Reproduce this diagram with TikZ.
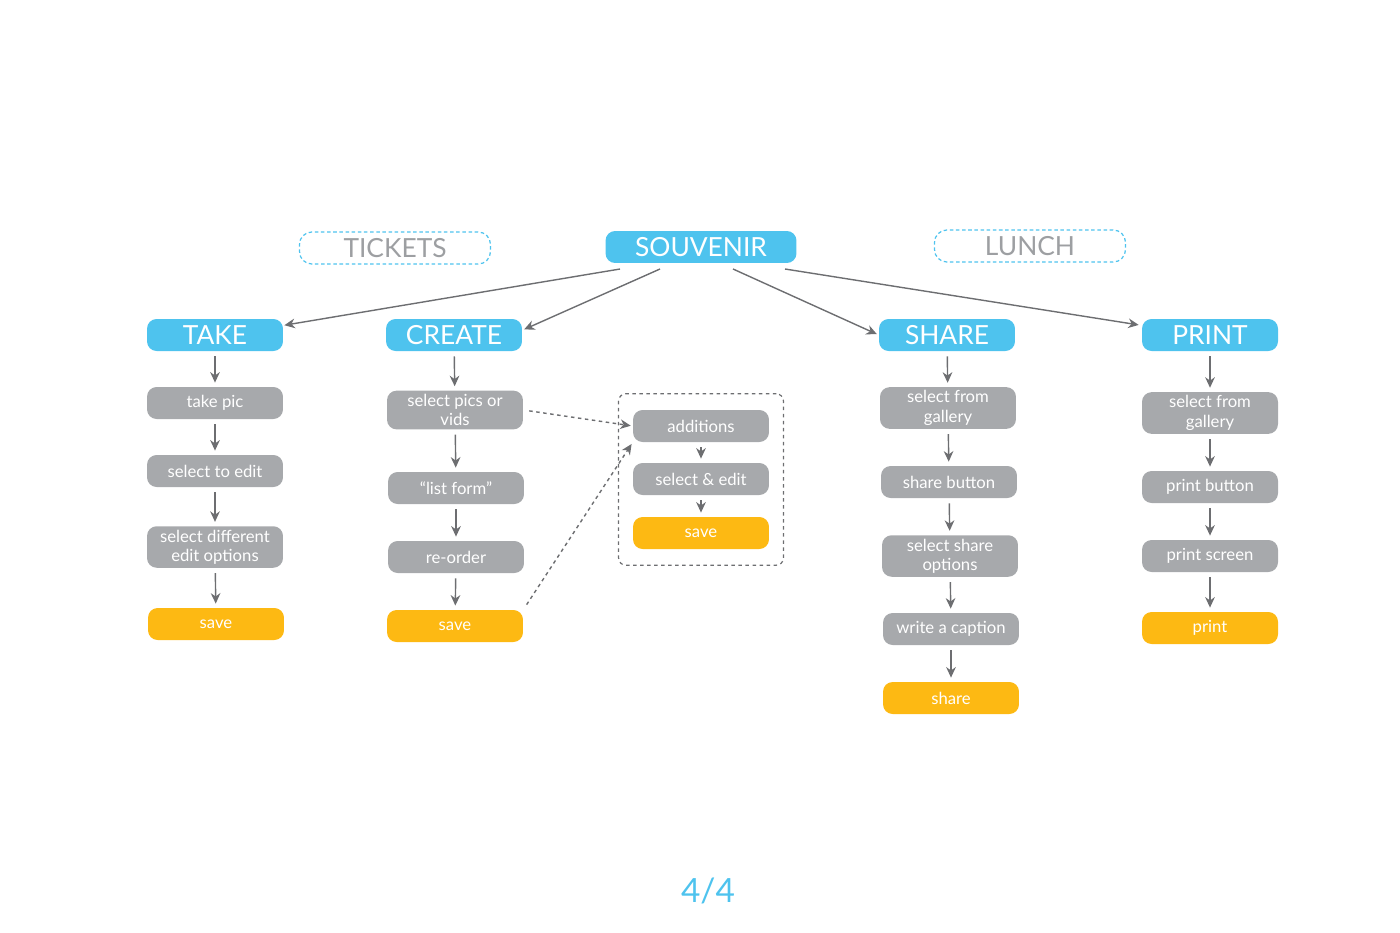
\documentclass[tikz,border=0pt]{standalone}
\usepackage{fontspec}
\setmainfont{Lato}
\usetikzlibrary{arrows.meta,fit}
\definecolor{skyblue}{HTML}{4EC3EE}
\definecolor{boxgrey}{HTML}{A7A9AC}
\definecolor{saveorange}{HTML}{FDB913}
\definecolor{linegrey}{HTML}{6D6E71}
\definecolor{textgrey}{HTML}{9D9FA2}
\begin{document}
\begin{tikzpicture}[x=0.02cm,y=-0.02cm,
  head/.style={fill=skyblue, text=white, rounded corners=5.5pt, minimum width=2.72cm,
    minimum height=0.64cm, inner sep=0pt, font=\fontsize{15}{17}\selectfont},
  other/.style={draw=skyblue, dash pattern=on 2pt off 1.5pt, line width=0.7pt, text=textgrey,
    rounded corners=7pt, minimum width=3.82cm, minimum height=0.64cm, inner sep=0pt,
    font=\fontsize{15}{17}\selectfont},
  stepbox/.style={fill=boxgrey, text=white, rounded corners=5.5pt, minimum width=2.72cm,
    minimum height=0.64cm, inner xsep=0pt, inner ysep=2pt, align=center,
    font=\fontsize{9.5}{11}\selectfont},
  endbox/.style={stepbox, fill=saveorange},
  flow/.style={draw=linegrey, line width=0.8pt, -{Stealth[length=6pt,width=5.5pt]},
    shorten <=2.8pt, shorten >=2.3pt},
  extra/.style={flow, dash pattern=on 2pt off 2pt, shorten <=3.4pt, shorten >=1.1pt},
  group/.style={draw=linegrey, dash pattern=on 2pt off 2pt, line width=0.7pt, rounded corners=4pt,
    inner xsep=8pt, inner ysep=9pt}]
  \useasboundingbox (0,0) rectangle (1400,933);
  % top row
  \node[head, minimum width=3.82cm] (souvenir) at (701,247) {SOUVENIR};
  \node[other] (tickets) at (395,248) {TICKETS};
  \node[other] (lunch) at (1030,246) {LUNCH};
  % branches
  \node[head] (take) at (215,335) {TAKE};
  \node[head] (create) at (454,335) {CREATE};
  \node[head] (share) at (947,335) {SHARE};
  \node[head] (print) at (1210,335) {PRINT};
  \coordinate (s1) at (620,269);
  \coordinate (s2) at (660,269);
  \coordinate (s3) at (733,269);
  \coordinate (s4) at (785,269);
  \draw[flow, shorten <=0pt, shorten >=0.6pt] (s1) -- (take.8);
  \draw[flow, shorten <=0pt, shorten >=1.1pt] (s2) -- (create.4);
  \draw[flow, shorten <=0pt, shorten >=1.1pt] (s3) -- (share.west);
  \draw[flow, shorten <=0pt, shorten >=1.7pt] (s4) -- (print.172);
  % take
  \node[stepbox] (tkpic) at (215,403) {take pic};
  \node[stepbox] (tkedit) at (215,471) {select to edit};
  \node[stepbox] (tkopt) at (215,547) {select different\\edit options};
  \node[endbox] (tksave) at (216,624) {save};
  \draw[flow] (take) -- (tkpic);
  \draw[flow] (tkpic) -- (tkedit);
  \draw[flow] (tkedit) -- (tkopt);
  \draw[flow] (tkopt) -- (tksave);
  % create
  \node[stepbox] (crsel) at (455,410) {select pics or\\vids};
  \node[stepbox] (crlist) at (456,488) {“list form”};
  \node[stepbox] (crorder) at (456,557) {re-order};
  \node[endbox] (crsave) at (455,626) {save};
  \draw[flow] (create) -- (crsel);
  \draw[flow] (crsel) -- (crlist);
  \draw[flow] (crlist) -- (crorder);
  \draw[flow] (crorder) -- (crsave);
  % additions
  \node[stepbox] (adds) at (701,426) {additions};
  \node[stepbox] (adedit) at (701,479) {select \& edit};
  \node[endbox] (adsave) at (701,533) {save};
  \node[group, fit=(adds) (adsave)] (addbox) {};
  \draw[flow] (adds) -- (adedit);
  \draw[flow] (adedit) -- (adsave);
  \draw[extra] (crsel.east) -- (adds.west);
  \draw[extra] (crsave.north east) -- (adds.south west);
  % share
  \node[stepbox] (shgal) at (948,408) {select from\\gallery};
  \node[stepbox] (shbtn) at (949,482) {share button};
  \node[stepbox] (shopt) at (950,556) {select share\\options};
  \node[stepbox] (shcap) at (951,629) {write a caption};
  \node[endbox] (shdone) at (951,698) {share};
  \draw[flow] (share) -- (shgal);
  \draw[flow] (shgal) -- (shbtn);
  \draw[flow] (shbtn) -- (shopt);
  \draw[flow] (shopt) -- (shcap);
  \draw[flow] (shcap) -- (shdone);
  % print
  \node[stepbox] (prgal) at (1210,413) {select from\\gallery};
  \node[stepbox] (prbtn) at (1210,487) {print button};
  \node[stepbox] (prscr) at (1210,556) {print screen};
  \node[endbox] (prdone) at (1210,628) {print};
  \draw[flow] (print) -- (prgal);
  \draw[flow] (prgal) -- (prbtn);
  \draw[flow] (prbtn) -- (prscr);
  \draw[flow] (prscr) -- (prdone);
  % page number
  \node[text=skyblue, font=\fontsize{19}{21}\selectfont] (pagenum) at (708,891) {4/4};
\end{tikzpicture}
\end{document}
